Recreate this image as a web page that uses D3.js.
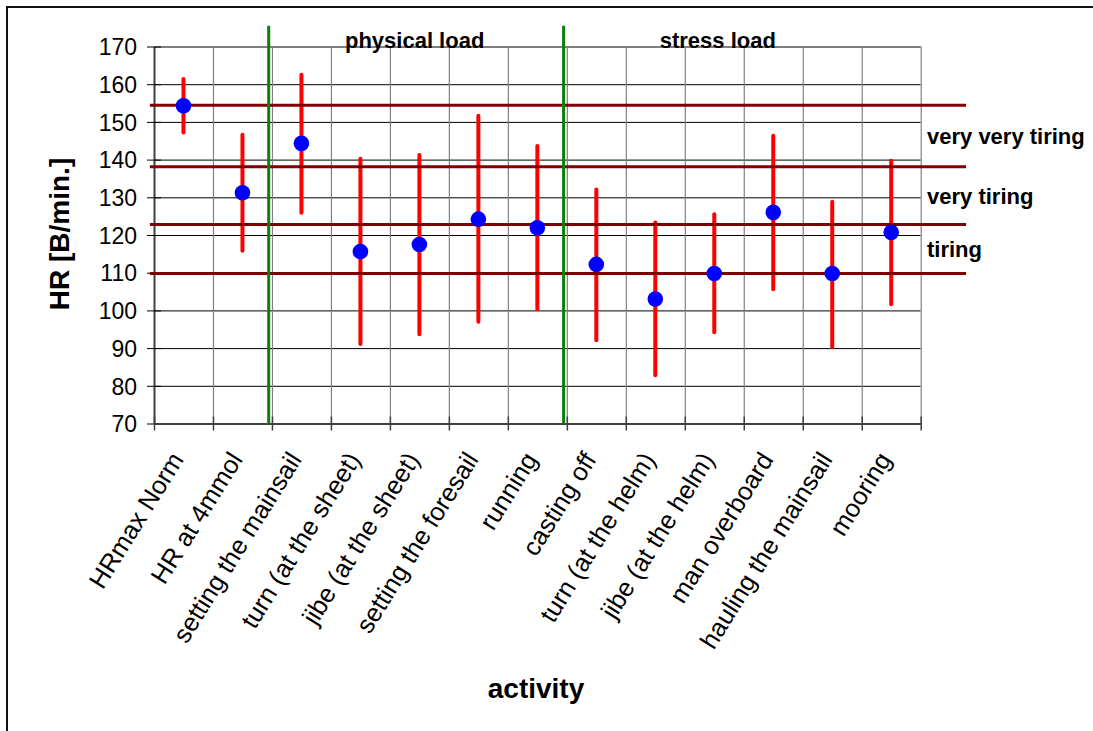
<!DOCTYPE html>
<html>
<head>
<meta charset="utf-8">
<script src="https://cdn.jsdelivr.net/npm/d3@7/dist/d3.min.js"></script>
<style>
  html, body { margin: 0; padding: 0; background: #fff; }
  svg { display: block; font-family: "Liberation Sans", Arial, sans-serif; }
</style>
</head>
<body>
<svg id="chart" width="1093" height="731"></svg>
<script>
// Heart rate per sailing activity: mean with min/max range
const categories = [
  "HRmax Norm", "HR at 4mmol", "setting the mainsail", "turn (at the sheet)",
  "jibe (at the sheet)", "setting the foresail", "running", "casting off",
  "turn (at the helm)", "jibe (at the helm)", "man overboard",
  "hauling the mainsail", "mooring"
];
const meanHR  = [154.3, 131.2, 144.3, 115.6, 117.5, 124.2, 121.9, 112.2, 103.0, 109.8, 126.0, 109.8, 120.7];
const upperHR = [161.4, 146.6, 162.5, 140.2, 141.2, 151.6, 143.6, 132.1, 123.3, 125.5, 146.3, 128.8, 139.7];
const lowerHR = [147.2, 115.8, 125.9, 91.1, 93.7, 97.0, 100.3, 92.1, 82.8, 94.2, 105.6, 90.3, 101.6];

// Intensity zone boundaries (B/min.) and their zone names
const zoneLines  = [154.4, 138.1, 122.8, 109.8];
const zoneLabels = ["very very tiring", "very tiring", "tiring"];
// Zone lines run across these category-slot positions
const zoneSpan = [-0.07, 13.77];

// Group separators (category-slot positions) and group titles
const separators = [1.945, 6.945];
const separatorTop = 175.5;
const groupLabels = ["physical load", "stress load"];
const groupCenters = [4.42, 9.56]; // slot positions of the group titles

const yTicks = [70, 80, 90, 100, 110, 120, 130, 140, 150, 160, 170];

const svg = d3.select("#chart");
const plotLeft = 154, plotRight = 920.7, plotTop = 46.5, plotBottom = 423.5;

const x = d3.scaleBand().domain(categories).range([plotLeft, plotRight]).padding(0);
const slot = d3.scaleLinear().domain([0, categories.length]).range([plotLeft, plotRight]);
const y = d3.scaleLinear().domain([70, 170]).range([plotBottom, plotTop]);

// outer frame
svg.append("rect")
  .attr("x", 7).attr("y", 7).attr("width", 1200).attr("height", 900)
  .attr("fill", "none").attr("stroke", "#111").attr("stroke-width", 2);

// horizontal gridlines
svg.append("g")
  .attr("transform", `translate(${plotLeft},0)`)
  .call(d3.axisLeft(y).tickValues(yTicks.slice(1)).tickSize(-(plotRight - plotLeft)).tickFormat(""))
  .call(g => g.select(".domain").remove())
  .call(g => g.selectAll("line").attr("stroke", "#000").attr("stroke-width", 1));

// vertical gridlines at category boundaries
svg.append("g")
  .attr("transform", `translate(0,${plotBottom})`)
  .call(d3.axisBottom(slot).tickValues(d3.range(1, categories.length + 1)).tickSize(-(plotBottom - plotTop)).tickFormat(""))
  .call(g => g.select(".domain").remove())
  .call(g => g.selectAll("line").attr("stroke", "#808080").attr("stroke-width", 1.2));

// y axis
svg.append("g")
  .attr("transform", `translate(${plotLeft},0)`)
  .call(d3.axisLeft(y).tickValues(yTicks).tickSize(7).tickSizeOuter(0).tickPadding(10))
  .call(g => g.select(".domain").attr("stroke", "#404040").attr("stroke-width", 2))
  .call(g => g.selectAll(".tick line").attr("x1", 7).attr("stroke", "#000"))
  .call(g => g.selectAll(".tick text")
    .attr("font-size", 23).attr("fill", "#000").attr("dy", "0.36em")
    .attr("font-family", "'Liberation Sans', Arial, sans-serif"));

// x axis: boundary ticks
svg.append("g")
  .attr("transform", `translate(0,${plotBottom})`)
  .call(d3.axisBottom(slot).tickValues(d3.range(0, categories.length + 1)).tickSize(7).tickSizeOuter(0).tickFormat(""))
  .call(g => g.select(".domain").attr("stroke", "#404040").attr("stroke-width", 2))
  .call(g => g.selectAll(".tick line").attr("y1", -7).attr("stroke", "#404040").attr("stroke-width", 1.5));

// x axis: rotated category labels
svg.append("g")
  .attr("transform", `translate(0,${plotBottom})`)
  .call(d3.axisBottom(x).tickSize(0))
  .call(g => g.select(".domain").remove())
  .call(g => g.selectAll(".tick text")
    .attr("font-size", 25.5).attr("fill", "#000")
    .attr("font-family", "'Liberation Sans', Arial, sans-serif")
    .attr("text-anchor", "end")
    .attr("x", 0).attr("y", 0).attr("dy", 0)
    .attr("transform", "translate(1,36) rotate(-58)"));

// error bars
svg.append("g").selectAll("line")
  .data(categories)
  .join("line")
  .attr("x1", d => x(d) + x.bandwidth() / 2)
  .attr("x2", d => x(d) + x.bandwidth() / 2)
  .attr("y1", (d, i) => y(lowerHR[i]))
  .attr("y2", (d, i) => y(upperHR[i]))
  .attr("stroke", "#ff0000").attr("stroke-width", 4).attr("stroke-linecap", "round");

// zone lines
svg.append("g").selectAll("line")
  .data(zoneLines)
  .join("line")
  .attr("x1", slot(zoneSpan[0])).attr("x2", slot(zoneSpan[1]))
  .attr("y1", d => y(d)).attr("y2", d => y(d))
  .attr("stroke", "#800000").attr("stroke-width", 3);

// group separators
svg.append("g").selectAll("line")
  .data(separators)
  .join("line")
  .attr("x1", d => slot(d)).attr("x2", d => slot(d))
  .attr("y1", y(separatorTop)).attr("y2", y(70))
  .attr("stroke", "#0a800a").attr("stroke-width", 3);

// mean markers
svg.append("g").selectAll("circle")
  .data(categories)
  .join("circle")
  .attr("cx", d => x(d) + x.bandwidth() / 2)
  .attr("cy", (d, i) => y(meanHR[i]))
  .attr("r", 7.8)
  .attr("fill", "#0000ff");

// group titles
svg.append("g").selectAll("text")
  .data(groupLabels)
  .join("text")
  .attr("x", (d, i) => slot(groupCenters[i]))
  .attr("y", 48)
  .attr("text-anchor", "middle")
  .attr("font-size", 22).attr("font-weight", "bold")
  .text(d => d);

// zone names, centred between consecutive zone lines
svg.append("g").selectAll("text")
  .data(zoneLabels)
  .join("text")
  .attr("x", 927)
  .attr("y", (d, i) => (y(zoneLines[i]) + y(zoneLines[i + 1])) / 2 + 8)
  .attr("font-size", 22).attr("font-weight", "bold")
  .text(d => d);

// axis titles
svg.append("text")
  .attr("transform", "translate(69,234) rotate(-90)")
  .attr("text-anchor", "middle")
  .attr("font-size", 28).attr("font-weight", "bold")
  .text("HR [B/min.]");

svg.append("text")
  .attr("x", 536).attr("y", 698)
  .attr("text-anchor", "middle")
  .attr("font-size", 28).attr("font-weight", "bold")
  .text("activity");
</script>
</body>
</html>
